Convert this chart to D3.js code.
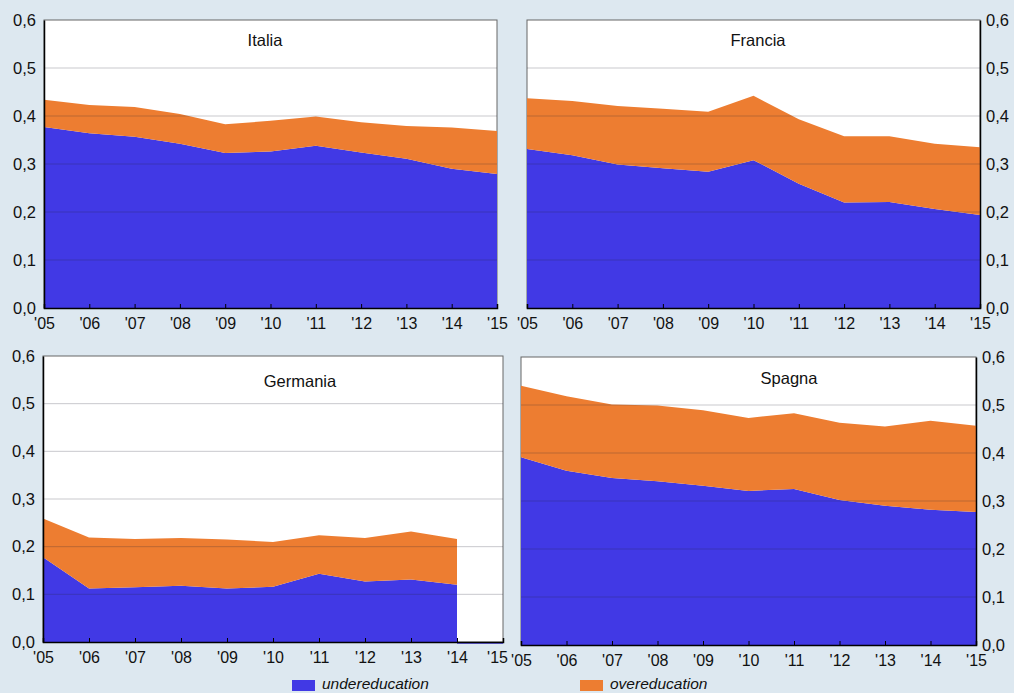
<!DOCTYPE html>
<html>
<head>
<meta charset="utf-8">
<script src="https://cdn.jsdelivr.net/npm/d3@7"></script>
<style>
  body { margin: 0; background: #dde8f0; }
  svg { display: block; font-family: "Liberation Sans", Arial, sans-serif; }
</style>
</head>
<body>
<svg width="1014" height="693"></svg>
<script>
// data
var years = [2005, 2006, 2007, 2008, 2009, 2010, 2011, 2012, 2013, 2014, 2015];
var yTicks = [0, 0.1, 0.2, 0.3, 0.4, 0.5, 0.6];

// undereducation and overeducation shares (overeducation stacked on top)
var italiaUnder = [0.377, 0.364, 0.357, 0.342, 0.323, 0.326, 0.338, 0.324, 0.311, 0.290, 0.279];
var italiaOver  = [0.057, 0.059, 0.062, 0.062, 0.060, 0.064, 0.061, 0.063, 0.068, 0.086, 0.090];

var franciaUnder = [0.331, 0.318, 0.299, 0.291, 0.284, 0.308, 0.259, 0.220, 0.221, 0.206, 0.194];
var franciaOver  = [0.106, 0.113, 0.122, 0.124, 0.125, 0.134, 0.134, 0.138, 0.137, 0.136, 0.141];

var germaniaUnder = [0.178, 0.112, 0.115, 0.118, 0.112, 0.116, 0.143, 0.127, 0.131, 0.120, null];
var germaniaOver  = [0.081, 0.107, 0.101, 0.100, 0.103, 0.094, 0.081, 0.091, 0.101, 0.096, null];

var spagnaUnder = [0.391, 0.363, 0.348, 0.341, 0.332, 0.321, 0.325, 0.302, 0.290, 0.282, 0.277];
var spagnaOver  = [0.149, 0.155, 0.153, 0.158, 0.157, 0.152, 0.158, 0.161, 0.165, 0.185, 0.180];

var seriesNames = ["undereducation", "overeducation"];
var colors = { undereducation: "#4139e5", overeducation: "#ed7d31" };

var panels = [
  { name: "Italia",   under: italiaUnder,   over: italiaOver,   x0: 44,  x1: 497, y0: 20,  y1: 308, side: "left",  tx: 265, ty: 46,  lastShift: 0 },
  { name: "Francia",  under: franciaUnder,  over: franciaOver,  x0: 527, x1: 980, y0: 20,  y1: 308, side: "right", tx: 758, ty: 46,  lastShift: 0 },
  { name: "Germania", under: germaniaUnder, over: germaniaOver, x0: 43,  x1: 503, y0: 356, y1: 642, side: "left",  tx: 300, ty: 387, lastShift: -6 },
  { name: "Spagna",   under: spagnaUnder,   over: spagnaOver,   x0: 521, x1: 976, y0: 357, y1: 645, side: "right", tx: 789, ty: 384, lastShift: 0 }
];

var svg = d3.select("svg");
var fmt = function (v) { return d3.format(".1f")(v).replace(".", ","); };

panels.forEach(function (p) {
  var x = d3.scaleLinear().domain([2005, 2015]).range([p.x0, p.x1]);
  var y = d3.scaleLinear().domain([0, 0.6]).range([p.y1, p.y0]);
  var g = svg.append("g");

  g.append("rect")
    .attr("x", p.x0).attr("y", p.y0)
    .attr("width", p.x1 - p.x0).attr("height", p.y1 - p.y0)
    .attr("fill", "#fff")
    .attr("stroke", "#666").attr("stroke-width", 1);

  var rows = years.map(function (yr, i) {
    return { year: yr, undereducation: p.under[i], overeducation: p.over[i] };
  });
  var stack = d3.stack().keys(seriesNames).value(function (d, k) { return d[k] == null ? 0 : d[k]; });
  var layers = stack(rows);

  var area = d3.area()
    .defined(function (d) { return d.data.undereducation != null; })
    .x(function (d) { return x(d.data.year); })
    .y0(function (d) { return y(d[0]); })
    .y1(function (d) { return y(d[1]); });

  g.selectAll("path.layer")
    .data(layers)
    .enter()
    .append("path")
    .attr("class", "layer")
    .attr("d", area)
    .attr("fill", function (d) { return colors[d.key]; });

  // missing last year: flat line on the baseline
  var last = rows.filter(function (d) { return d.undereducation != null; });
  if (last.length < rows.length) {
    g.append("line")
      .attr("x1", x(last[last.length - 1].year)).attr("x2", x(years[years.length - 1]))
      .attr("y1", y(0) + 1).attr("y2", y(0) + 1)
      .attr("stroke", colors.undereducation).attr("stroke-width", 1.5);
  }

  // gridlines on top
  g.selectAll("line.grid")
    .data(yTicks.slice(1, -1))
    .enter()
    .append("line")
    .attr("class", "grid")
    .attr("x1", p.x0).attr("x2", p.x1)
    .attr("y1", function (d) { return y(d); })
    .attr("y2", function (d) { return y(d); })
    .attr("stroke", "rgba(40,40,60,0.25)").attr("stroke-width", 1);

  // x axis with inside ticks
  var xAxis = d3.axisBottom(x)
    .tickValues(years)
    .tickSize(-4)
    .tickPadding(10)
    .tickFormat(function (d) { return "'" + String(d).slice(2); });
  var xg = g.append("g").attr("transform", "translate(0," + p.y1 + ")").call(xAxis);
  xg.select(".domain").attr("stroke", "#000").attr("stroke-width", 1.5);
  xg.selectAll(".tick line").attr("stroke", "#000");
  xg.selectAll("text").attr("font-size", 16).attr("fill", "#111").attr("dy", "0.71em");
  xg.selectAll(".tick text").filter(function (d) { return d === 2015; }).attr("dx", p.lastShift);

  // y axis
  var yAxis = (p.side === "left" ? d3.axisLeft(y) : d3.axisRight(y))
    .tickValues(yTicks)
    .tickSize(0)
    .tickPadding(p.side === "left" ? 8 : 6)
    .tickFormat(fmt);
  var yg = g.append("g")
    .attr("transform", "translate(" + (p.side === "left" ? p.x0 : p.x1) + ",0)")
    .call(yAxis);
  yg.select(".domain").attr("stroke", "#000").attr("stroke-width", 1.5);
  yg.selectAll("text").attr("font-size", 16.5).attr("fill", "#111");

  g.append("text")
    .attr("x", p.tx).attr("y", p.ty)
    .attr("text-anchor", "middle")
    .attr("font-size", 16.5)
    .attr("fill", "#111")
    .text(p.name);
});

// legend
var legendX = { undereducation: 292, overeducation: 580 };
var lg = svg.append("g").selectAll("g")
  .data(seriesNames)
  .enter()
  .append("g")
  .attr("transform", function (d) { return "translate(" + legendX[d] + ",680)"; });
lg.append("rect")
  .attr("width", 23).attr("height", 11)
  .attr("fill", function (d) { return colors[d]; });
lg.append("text")
  .attr("x", 30).attr("y", 9)
  .attr("font-size", 15.5)
  .attr("font-style", "italic")
  .attr("fill", "#111")
  .text(function (d) { return d; });
</script>
</body>
</html>
